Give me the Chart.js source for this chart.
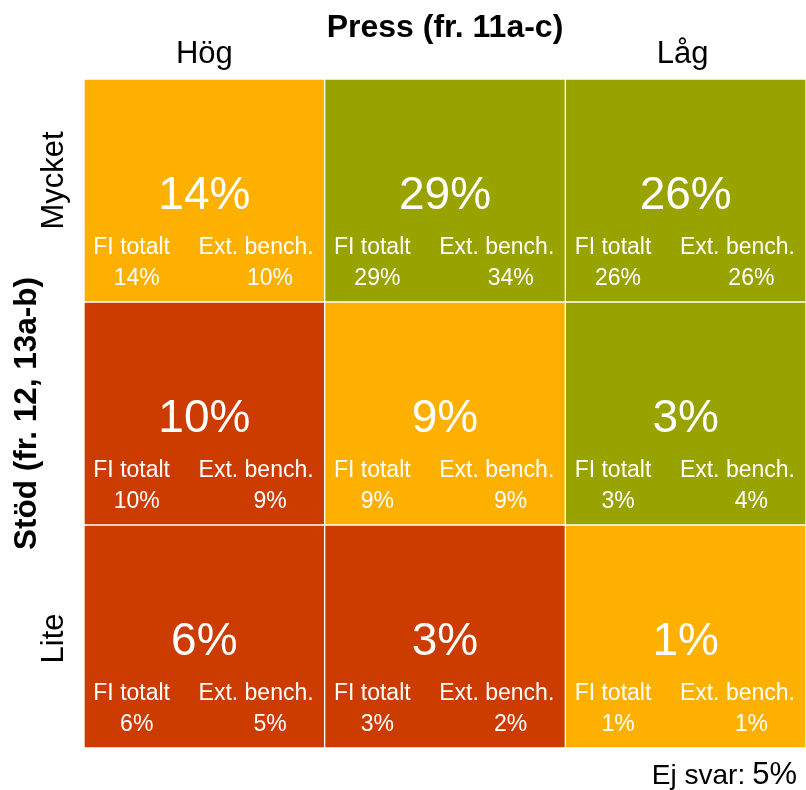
<!DOCTYPE html>
<html>
<head>
<meta charset="utf-8">
<script src="https://cdn.jsdelivr.net/npm/chart.js@4.4.0/dist/chart.umd.min.js"></script>
<style>body{margin:0;background:#fff}</style>
</head>
<body>
<canvas id="chart" width="806" height="790"></canvas>
<script>
// columns (press) and rows (stöd)
const pressLabels = ['Hög', '', 'Låg'];
const stodLabels = ['Mycket', '', 'Lite'];
const subLabels = ['FI totalt', 'Ext. bench.'];

// per cell values, row by row
const totals = [[14, 29, 26], [10, 9, 3], [6, 3, 1]];
const fiTotalt = [[14, 29, 26], [10, 9, 3], [6, 3, 1]];
const extBench = [[10, 34, 26], [9, 9, 4], [5, 2, 1]];
const levels = [['mid', 'low', 'low'], ['high', 'mid', 'low'], ['high', 'high', 'mid']];
const ejSvar = 5;

const xTitle = 'Press (fr. 11a-c)';
const yTitle = 'Stöd (fr. 12, 13a-b)';

const colors = { high: '#CC3C00', mid: '#FEB000', low: '#99A300' };
const font = "'Liberation Sans', Arial, sans-serif";

const datasets = stodLabels.map((row, r) => ({
  label: row || 'mitten',
  data: pressLabels.map(() => [r, r + 1]),
  backgroundColor: levels[r].map((l) => colors[l]),
  borderColor: '#ffffff',
  borderWidth: 1,
  borderSkipped: false,
  grouped: false,
  barPercentage: 1,
  categoryPercentage: 1
}));

const cellText = {
  id: 'cellText',
  afterDatasetsDraw(chart) {
    const { ctx, scales: { x, y } } = chart;
    const colW = x.width / pressLabels.length;
    ctx.save();
    ctx.fillStyle = '#ffffff';
    ctx.textAlign = 'center';
    ctx.textBaseline = 'alphabetic';
    stodLabels.forEach((_, r) => {
      const top = y.getPixelForValue(r);
      const h = y.getPixelForValue(r + 1) - top;
      pressLabels.forEach((__, c) => {
        const left = x.getPixelForValue(c) - colW / 2;
        ctx.font = `46px ${font}`;
        ctx.fillText(`${totals[r][c]}%`, left + colW / 2, top + h * 0.582);
        ctx.font = `23px ${font}`;
        ctx.fillText(subLabels[0], left + colW * 0.198, top + h * 0.785);
        ctx.fillText(subLabels[1], left + colW * 0.715, top + h * 0.785);
        ctx.fillText(`${fiTotalt[r][c]}%`, left + colW * 0.219, top + h * 0.923);
        ctx.fillText(`${extBench[r][c]}%`, left + colW * 0.773, top + h * 0.923);
      });
    });
    ctx.restore();
  },
  afterDraw(chart) {
    const { ctx, chartArea: area, scales: { x, y } } = chart;
    ctx.save();
    ctx.fillStyle = '#000000';
    ctx.textAlign = 'center';
    ctx.textBaseline = 'alphabetic';

    // top axis
    ctx.font = `bold 32px ${font}`;
    ctx.fillText(xTitle, x.getPixelForValue(1), area.top - 42);
    ctx.font = `31px ${font}`;
    pressLabels.forEach((lab, c) => {
      const nudge = c === pressLabels.length - 1 ? -3 : 0;
      ctx.fillText(lab, x.getPixelForValue(c) + nudge, area.top - 16);
    });

    // left axis, rotated
    stodLabels.forEach((lab, r) => {
      const cy = (y.getPixelForValue(r) + y.getPixelForValue(r + 1)) / 2;
      const nudge = r === 0 ? -10 : 2;
      ctx.save();
      ctx.translate(area.left - 21, cy + nudge);
      ctx.rotate(-Math.PI / 2);
      ctx.font = `31px ${font}`;
      ctx.fillText(lab, 0, 0);
      ctx.restore();
    });
    ctx.save();
    ctx.translate(area.left - 48, (y.getPixelForValue(1) + y.getPixelForValue(2)) / 2);
    ctx.rotate(-Math.PI / 2);
    ctx.font = `bold 31.5px ${font}`;
    ctx.fillText(yTitle, 0, 0);
    ctx.restore();

    // no answer note
    ctx.textAlign = 'right';
    const right = area.right - 9;
    const base = area.bottom + 36;
    ctx.font = `31px ${font}`;
    const pct = `${ejSvar}%`;
    ctx.fillText(pct, right, base);
    const w = ctx.measureText(pct).width;
    ctx.font = `28px ${font}`;
    ctx.fillText('Ej svar:', right - w - 7, base);
    ctx.restore();
  }
};

new Chart(document.getElementById('chart'), {
  type: 'bar',
  data: { labels: pressLabels, datasets },
  options: {
    responsive: false,
    animation: false,
    devicePixelRatio: 1,
    layout: { padding: { left: 84, top: 79, right: 0, bottom: 42 } },
    plugins: {
      legend: { display: false },
      tooltip: { enabled: false }
    },
    scales: {
      x: { type: 'category', display: false, offset: true },
      y: { type: 'linear', display: false, min: 0, max: 3, reverse: true }
    }
  },
  plugins: [cellText]
});
</script>
</body>
</html>
